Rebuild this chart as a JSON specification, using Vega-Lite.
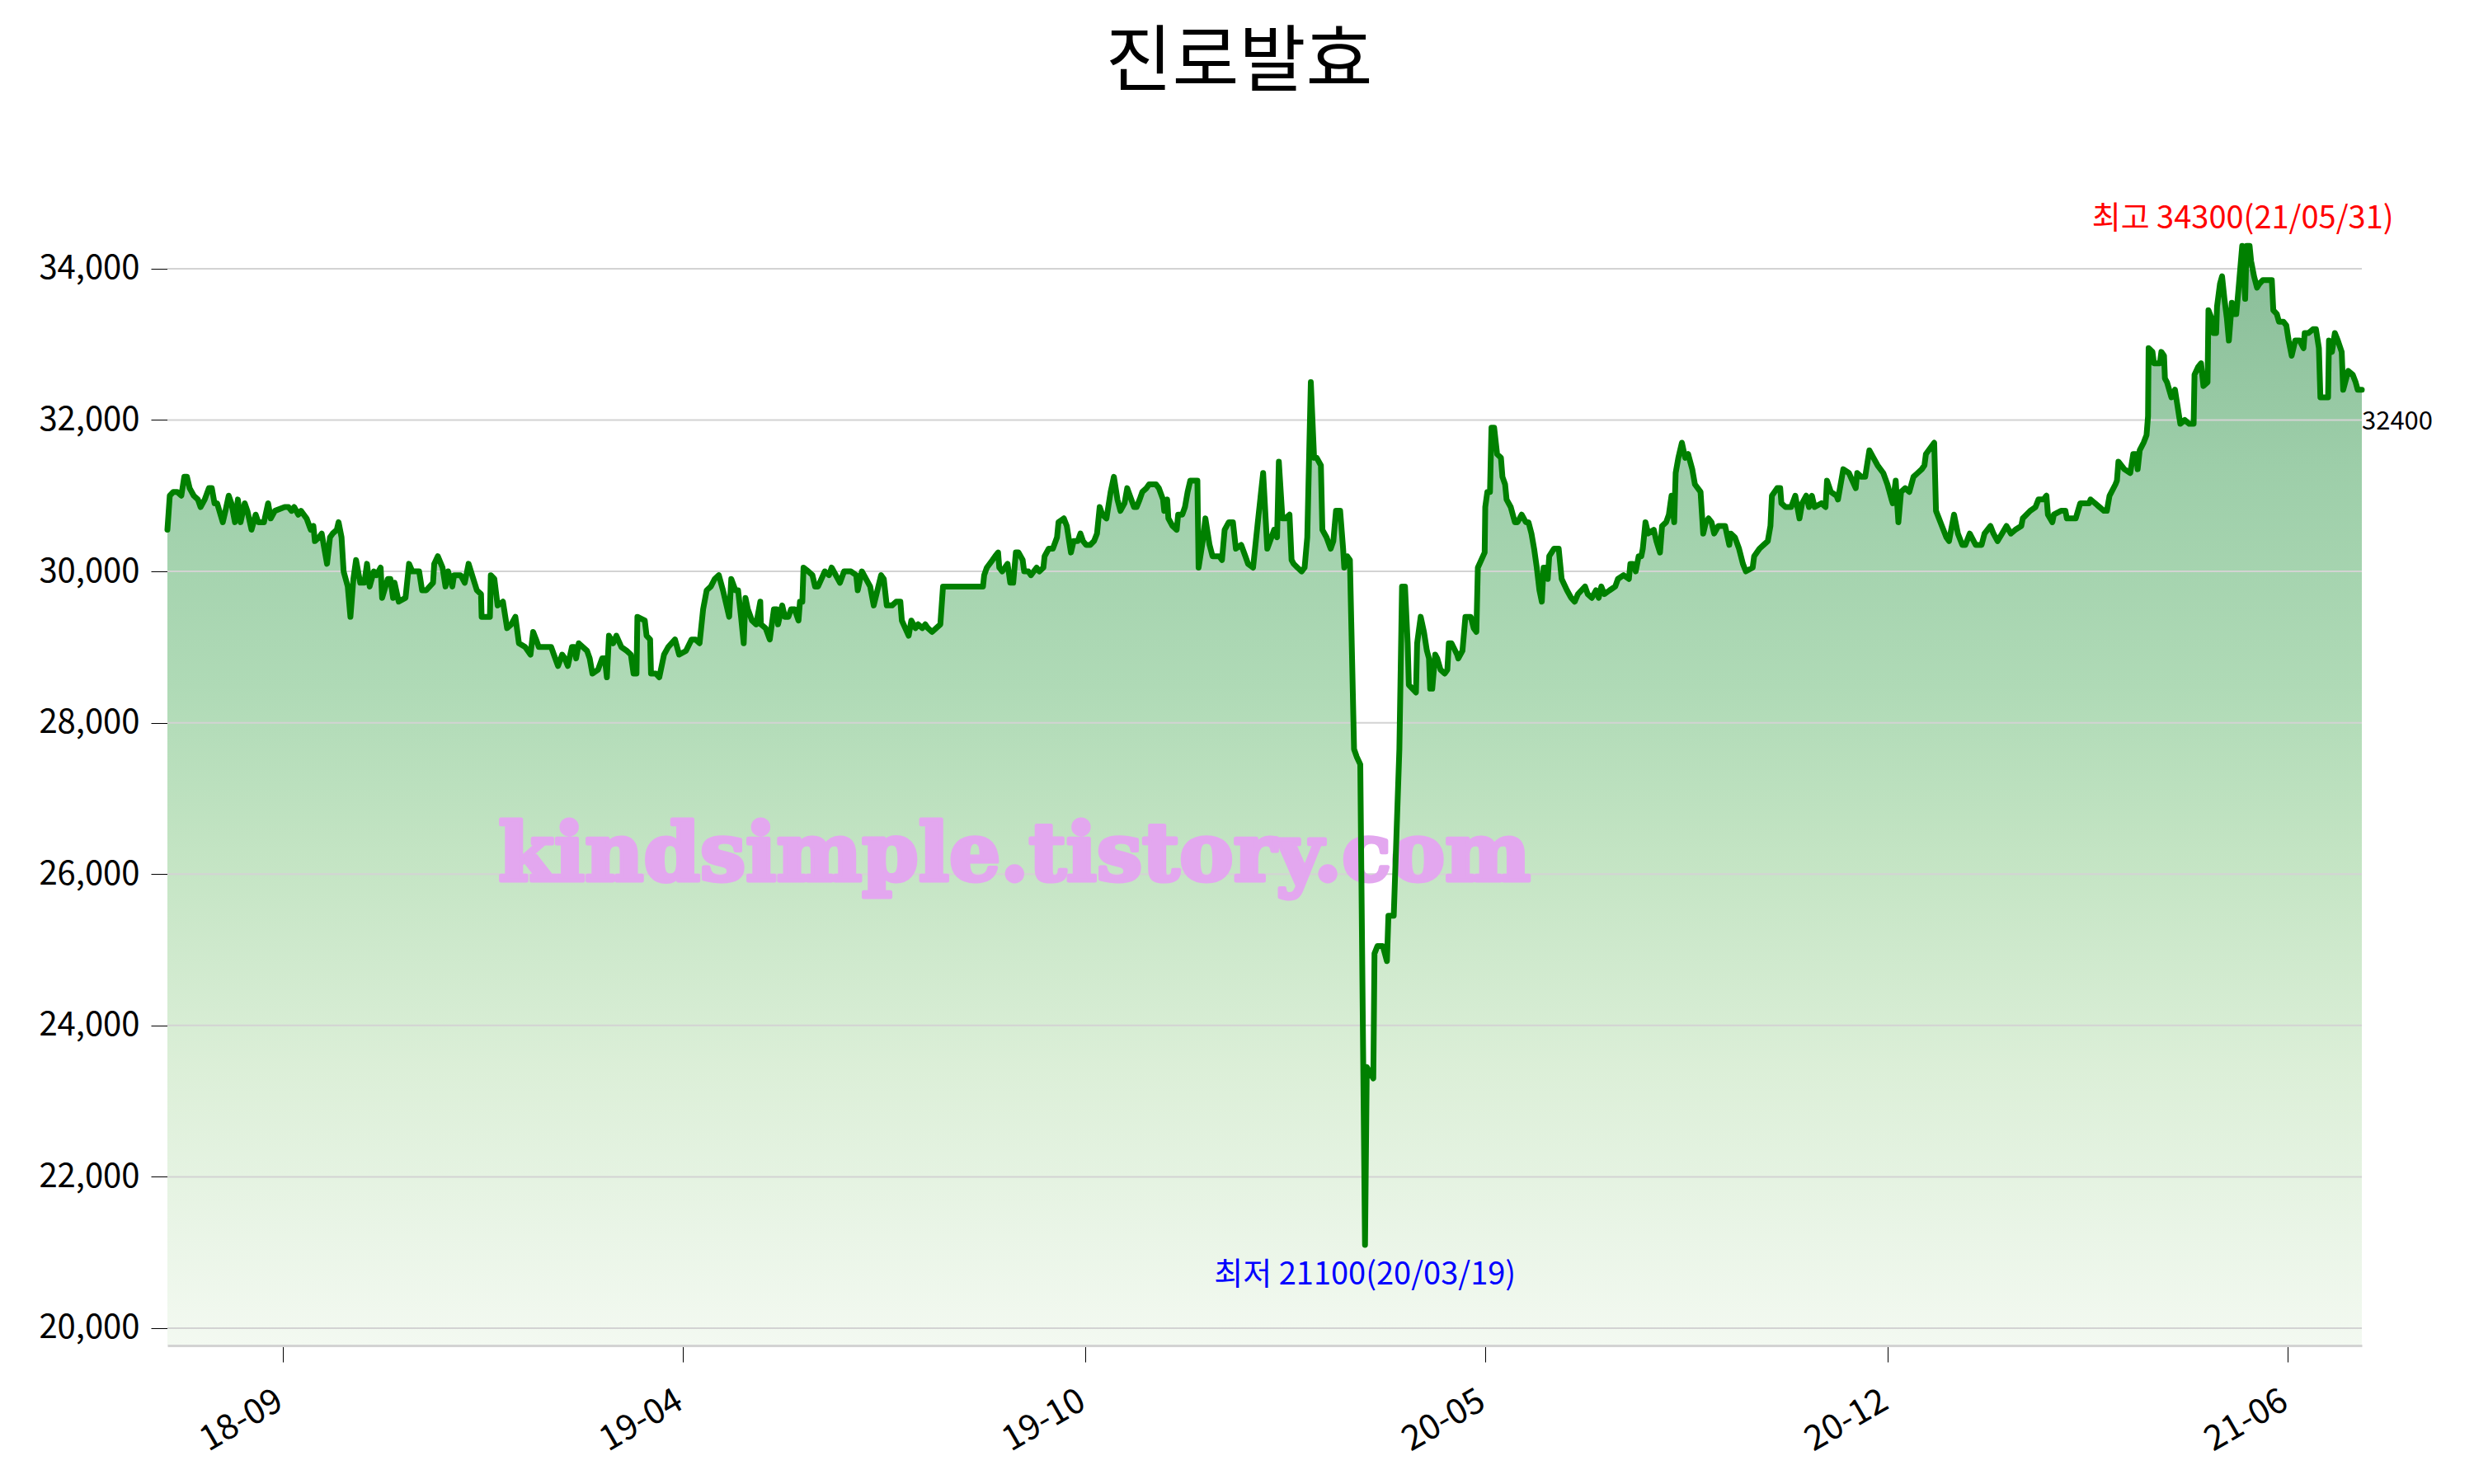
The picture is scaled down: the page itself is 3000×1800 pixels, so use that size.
{
  "$schema": "https://vega.github.io/schema/vega-lite/v6.json",
  "width": 2661,
  "height": 1455,
  "autosize": "none",
  "padding": {"left": 203, "top": 177, "right": 136, "bottom": 168},
  "background": "white",
  "title": {"text": "진로발효", "font": "Noto Sans CJK KR", "fontSize": 88, "fontWeight": "normal", "color": "black", "anchor": "middle", "dx": -31, "offset": 56},
  "config": {"view": {"stroke": null}},
  "datasets": {
    "price": [
      {"t":0,"p":30550},{"t":0.8,"p":31000},{"t":2.0,"p":31050},{"t":3.3,"p":31050},{"t":4.7,"p":31000},{"t":5.7,"p":31250},{"t":6.6,"p":31250},{"t":7.5,"p":31100},{"t":8.9,"p":31000},{"t":10.3,"p":30950},{"t":11.2,"p":30850},{"t":12.6,"p":30950},{"t":14.0,"p":31100},{"t":15.0,"p":31100},{"t":15.9,"p":30900},{"t":16.8,"p":30900},{"t":18.7,"p":30650},{"t":19.6,"p":30800},{"t":20.7,"p":31000},{"t":21.6,"p":30900},{"t":22.8,"p":30650},{"t":23.8,"p":30950},{"t":24.7,"p":30650},{"t":26.1,"p":30900},{"t":27.0,"p":30800},{"t":28.4,"p":30550},{"t":29.8,"p":30750},{"t":30.7,"p":30650},{"t":32.6,"p":30650},{"t":34.0,"p":30900},{"t":34.9,"p":30700},{"t":36.3,"p":30800},{"t":39.6,"p":30850},{"t":40.9,"p":30850},{"t":41.9,"p":30800},{"t":42.8,"p":30850},{"t":44.2,"p":30750},{"t":45.1,"p":30800},{"t":47.0,"p":30700},{"t":48.4,"p":30550},{"t":49.3,"p":30600},{"t":49.8,"p":30400},{"t":51.2,"p":30450},{"t":52.1,"p":30500},{"t":53.9,"p":30100},{"t":54.9,"p":30450},{"t":55.8,"p":30500},{"t":57.2,"p":30550},{"t":57.8,"p":30650},{"t":58.8,"p":30450},{"t":59.5,"p":30000},{"t":60.9,"p":29800},{"t":61.8,"p":29400},{"t":62.8,"p":29900},{"t":63.7,"p":30150},{"t":65.1,"p":29850},{"t":66.5,"p":29850},{"t":67.4,"p":30100},{"t":68.3,"p":29800},{"t":69.7,"p":30000},{"t":70.6,"p":29950},{"t":72.0,"p":30050},{"t":72.5,"p":29650},{"t":74.4,"p":29900},{"t":75.3,"p":29900},{"t":76.2,"p":29650},{"t":76.7,"p":29850},{"t":78.1,"p":29600},{"t":80.4,"p":29650},{"t":81.6,"p":30100},{"t":82.7,"p":30000},{"t":85.0,"p":30000},{"t":86.0,"p":29750},{"t":87.4,"p":29750},{"t":89.7,"p":29850},{"t":90.1,"p":30100},{"t":91.3,"p":30200},{"t":92.9,"p":30050},{"t":93.9,"p":29800},{"t":94.8,"p":30000},{"t":96.2,"p":29800},{"t":96.8,"p":29950},{"t":99.0,"p":29950},{"t":100.4,"p":29850},{"t":101.7,"p":30100},{"t":104.5,"p":29750},{"t":105.9,"p":29700},{"t":106.1,"p":29400},{"t":108.9,"p":29400},{"t":109.2,"p":29950},{"t":110.4,"p":29900},{"t":111.5,"p":29550},{"t":113.3,"p":29600},{"t":114.7,"p":29250},{"t":116.1,"p":29300},{"t":117.5,"p":29400},{"t":118.7,"p":29050},{"t":120.8,"p":29000},{"t":122.6,"p":28900},{"t":123.5,"p":29200},{"t":124.5,"p":29100},{"t":125.4,"p":29000},{"t":129.6,"p":29000},{"t":130.5,"p":28900},{"t":131.9,"p":28750},{"t":133.3,"p":28900},{"t":134.2,"p":28850},{"t":135.2,"p":28750},{"t":136.6,"p":29000},{"t":137.5,"p":29000},{"t":138.0,"p":28850},{"t":138.9,"p":29050},{"t":140.3,"p":29000},{"t":141.7,"p":28950},{"t":142.6,"p":28850},{"t":143.5,"p":28650},{"t":145.4,"p":28700},{"t":146.8,"p":28850},{"t":147.7,"p":28850},{"t":148.4,"p":28600},{"t":149.1,"p":29150},{"t":150.5,"p":29050},{"t":151.6,"p":29150},{"t":153.3,"p":29000},{"t":155.1,"p":28950},{"t":156.5,"p":28900},{"t":157.4,"p":28650},{"t":158.4,"p":28650},{"t":158.7,"p":29400},{"t":161.2,"p":29350},{"t":161.8,"p":29150},{"t":163.0,"p":29100},{"t":163.3,"p":28650},{"t":164.9,"p":28650},{"t":166.1,"p":28600},{"t":167.7,"p":28900},{"t":169.1,"p":29000},{"t":171.4,"p":29100},{"t":172.8,"p":28900},{"t":175.1,"p":28950},{"t":177.0,"p":29100},{"t":178.3,"p":29100},{"t":179.7,"p":29050},{"t":180.9,"p":29500},{"t":182.1,"p":29750},{"t":183.5,"p":29800},{"t":184.8,"p":29900},{"t":186.2,"p":29950},{"t":187.6,"p":29750},{"t":189.7,"p":29400},{"t":190.4,"p":29900},{"t":191.8,"p":29750},{"t":192.7,"p":29750},{"t":193.7,"p":29400},{"t":194.6,"p":29050},{"t":195.2,"p":29650},{"t":196.0,"p":29500},{"t":197.4,"p":29350},{"t":198.8,"p":29300},{"t":200.2,"p":29600},{"t":200.4,"p":29300},{"t":202.0,"p":29250},{"t":203.4,"p":29100},{"t":204.8,"p":29500},{"t":205.7,"p":29500},{"t":206.2,"p":29300},{"t":207.6,"p":29550},{"t":208.5,"p":29400},{"t":209.7,"p":29400},{"t":210.6,"p":29500},{"t":211.8,"p":29500},{"t":213.1,"p":29350},{"t":213.6,"p":29600},{"t":214.4,"p":29600},{"t":214.8,"p":30050},{"t":216.4,"p":30000},{"t":217.8,"p":29950},{"t":218.7,"p":29800},{"t":219.7,"p":29800},{"t":222.0,"p":30000},{"t":223.4,"p":29950},{"t":224.3,"p":30050},{"t":227.1,"p":29850},{"t":228.5,"p":30000},{"t":230.8,"p":30000},{"t":232.6,"p":29950},{"t":233.1,"p":29750},{"t":234.5,"p":30000},{"t":237.3,"p":29800},{"t":238.5,"p":29550},{"t":241.0,"p":29950},{"t":241.9,"p":29900},{"t":242.9,"p":29550},{"t":244.7,"p":29550},{"t":246.1,"p":29600},{"t":247.5,"p":29600},{"t":248.0,"p":29350},{"t":250.3,"p":29150},{"t":251.2,"p":29350},{"t":252.6,"p":29250},{"t":253.5,"p":29300},{"t":254.9,"p":29250},{"t":255.9,"p":29300},{"t":256.8,"p":29250},{"t":258.2,"p":29200},{"t":259.6,"p":29250},{"t":261.0,"p":29300},{"t":261.9,"p":29800},{"t":275.4,"p":29800},{"t":275.8,"p":29950},{"t":276.7,"p":30050},{"t":278.6,"p":30150},{"t":279.5,"p":30200},{"t":280.5,"p":30250},{"t":280.9,"p":30050},{"t":281.9,"p":30000},{"t":282.8,"p":30050},{"t":283.7,"p":30100},{"t":284.6,"p":29850},{"t":285.6,"p":29850},{"t":286.5,"p":30250},{"t":287.4,"p":30250},{"t":288.8,"p":30150},{"t":289.3,"p":30000},{"t":290.7,"p":30000},{"t":291.6,"p":29950},{"t":293.5,"p":30050},{"t":294.4,"p":30000},{"t":295.8,"p":30050},{"t":296.2,"p":30200},{"t":297.6,"p":30300},{"t":299.0,"p":30300},{"t":300.4,"p":30450},{"t":300.9,"p":30650},{"t":302.7,"p":30700},{"t":303.7,"p":30600},{"t":305.1,"p":30250},{"t":306.0,"p":30400},{"t":307.4,"p":30400},{"t":308.3,"p":30500},{"t":309.2,"p":30400},{"t":310.2,"p":30350},{"t":311.6,"p":30350},{"t":312.9,"p":30400},{"t":313.9,"p":30500},{"t":314.8,"p":30850},{"t":315.7,"p":30750},{"t":317.1,"p":30700},{"t":318.5,"p":31050},{"t":319.6,"p":31250},{"t":320.8,"p":30950},{"t":321.8,"p":30800},{"t":323.2,"p":30900},{"t":324.1,"p":31100},{"t":325.0,"p":31000},{"t":326.4,"p":30850},{"t":327.3,"p":30850},{"t":328.3,"p":30950},{"t":329.2,"p":31050},{"t":330.6,"p":31100},{"t":331.5,"p":31150},{"t":333.8,"p":31150},{"t":334.8,"p":31100},{"t":336.2,"p":30950},{"t":336.6,"p":30800},{"t":337.6,"p":30950},{"t":338.0,"p":30700},{"t":339.4,"p":30600},{"t":340.8,"p":30550},{"t":341.3,"p":30750},{"t":342.7,"p":30750},{"t":343.6,"p":30850},{"t":344.5,"p":31050},{"t":345.4,"p":31200},{"t":347.8,"p":31200},{"t":348.2,"p":30050},{"t":349.6,"p":30400},{"t":350.5,"p":30700},{"t":351.9,"p":30350},{"t":352.9,"p":30200},{"t":355.2,"p":30200},{"t":356.1,"p":30150},{"t":357.0,"p":30550},{"t":358.4,"p":30650},{"t":359.8,"p":30650},{"t":360.8,"p":30300},{"t":362.6,"p":30350},{"t":364.0,"p":30200},{"t":364.9,"p":30100},{"t":366.6,"p":30050},{"t":368.2,"p":30650},{"t":370.0,"p":31300},{"t":371.4,"p":30300},{"t":372.8,"p":30450},{"t":373.7,"p":30550},{"t":374.7,"p":30450},{"t":375.3,"p":31450},{"t":376.5,"p":30700},{"t":377.5,"p":30700},{"t":378.9,"p":30750},{"t":379.6,"p":30150},{"t":380.3,"p":30100},{"t":381.6,"p":30050},{"t":383.0,"p":30000},{"t":384.0,"p":30050},{"t":384.9,"p":30450},{"t":386.1,"p":32500},{"t":387.2,"p":31500},{"t":388.1,"p":31500},{"t":389.5,"p":31400},{"t":390.0,"p":30550},{"t":391.4,"p":30450},{"t":392.8,"p":30300},{"t":393.7,"p":30400},{"t":394.6,"p":30800},{"t":396.0,"p":30800},{"t":397.0,"p":30300},{"t":397.4,"p":30050},{"t":398.4,"p":30200},{"t":399.3,"p":30150},{"t":400.7,"p":27650},{"t":401.6,"p":27550},{"t":402.8,"p":27450},{"t":404.4,"p":21100},{"t":405.0,"p":23450},{"t":407.2,"p":23300},{"t":407.6,"p":24950},{"t":408.6,"p":25050},{"t":410.4,"p":25050},{"t":411.8,"p":24850},{"t":412.3,"p":25450},{"t":414.1,"p":25450},{"t":416.0,"p":27650},{"t":416.9,"p":29800},{"t":417.9,"p":29800},{"t":418.8,"p":29050},{"t":419.2,"p":28500},{"t":421.6,"p":28400},{"t":422.0,"p":29050},{"t":423.2,"p":29400},{"t":424.3,"p":29200},{"t":425.3,"p":28950},{"t":426.0,"p":28850},{"t":426.4,"p":28450},{"t":427.1,"p":28450},{"t":428.1,"p":28900},{"t":428.8,"p":28850},{"t":429.9,"p":28700},{"t":431.3,"p":28650},{"t":432.2,"p":28700},{"t":432.7,"p":29050},{"t":433.6,"p":29050},{"t":435.5,"p":28900},{"t":435.9,"p":28850},{"t":437.3,"p":28950},{"t":438.3,"p":29400},{"t":440.1,"p":29400},{"t":441.1,"p":29250},{"t":442.0,"p":29200},{"t":442.5,"p":30050},{"t":444.8,"p":30250},{"t":445.0,"p":30850},{"t":445.7,"p":31050},{"t":446.6,"p":31050},{"t":447.1,"p":31900},{"t":448.0,"p":31900},{"t":449.0,"p":31550},{"t":450.3,"p":31500},{"t":450.8,"p":31250},{"t":451.7,"p":31150},{"t":452.2,"p":30950},{"t":453.6,"p":30850},{"t":455.0,"p":30650},{"t":455.9,"p":30650},{"t":457.3,"p":30750},{"t":458.7,"p":30650},{"t":459.6,"p":30650},{"t":460.6,"p":30500},{"t":461.5,"p":30300},{"t":462.4,"p":30050},{"t":463.3,"p":29750},{"t":464.1,"p":29600},{"t":464.7,"p":30050},{"t":465.7,"p":30050},{"t":466.1,"p":29900},{"t":466.6,"p":30200},{"t":468.2,"p":30300},{"t":469.8,"p":30300},{"t":470.8,"p":29900},{"t":472.6,"p":29750},{"t":474.0,"p":29650},{"t":475.2,"p":29600},{"t":476.3,"p":29700},{"t":478.7,"p":29800},{"t":479.6,"p":29700},{"t":481.0,"p":29650},{"t":482.4,"p":29750},{"t":483.3,"p":29650},{"t":484.2,"p":29800},{"t":485.2,"p":29700},{"t":487.0,"p":29750},{"t":488.9,"p":29800},{"t":489.8,"p":29900},{"t":491.7,"p":29950},{"t":493.5,"p":29900},{"t":494.0,"p":30100},{"t":494.9,"p":30100},{"t":495.8,"p":30000},{"t":496.8,"p":30200},{"t":497.7,"p":30200},{"t":498.2,"p":30300},{"t":499.1,"p":30650},{"t":500.0,"p":30500},{"t":501.9,"p":30550},{"t":502.8,"p":30400},{"t":504.0,"p":30250},{"t":504.7,"p":30600},{"t":506.1,"p":30650},{"t":507.0,"p":30750},{"t":507.9,"p":31000},{"t":508.8,"p":30650},{"t":509.3,"p":31300},{"t":510.2,"p":31500},{"t":511.4,"p":31700},{"t":512.5,"p":31500},{"t":513.5,"p":31550},{"t":514.9,"p":31350},{"t":515.8,"p":31150},{"t":517.7,"p":31050},{"t":518.6,"p":30500},{"t":519.5,"p":30650},{"t":520.4,"p":30700},{"t":521.4,"p":30650},{"t":522.3,"p":30500},{"t":523.7,"p":30600},{"t":526.0,"p":30600},{"t":527.4,"p":30350},{"t":527.9,"p":30500},{"t":529.3,"p":30450},{"t":530.7,"p":30300},{"t":532.0,"p":30100},{"t":533.0,"p":30000},{"t":535.3,"p":30050},{"t":535.8,"p":30200},{"t":537.6,"p":30300},{"t":539.0,"p":30350},{"t":540.4,"p":30400},{"t":541.3,"p":30600},{"t":541.8,"p":31000},{"t":543.6,"p":31100},{"t":544.6,"p":31100},{"t":545.0,"p":30900},{"t":546.4,"p":30850},{"t":548.3,"p":30850},{"t":549.7,"p":31000},{"t":551.1,"p":30700},{"t":552.0,"p":30900},{"t":553.4,"p":31000},{"t":554.3,"p":30850},{"t":555.3,"p":31000},{"t":556.2,"p":30850},{"t":558.5,"p":30900},{"t":559.9,"p":30850},{"t":560.4,"p":31200},{"t":561.7,"p":31050},{"t":563.6,"p":31000},{"t":564.1,"p":30950},{"t":565.9,"p":31350},{"t":567.8,"p":31300},{"t":570.1,"p":31100},{"t":570.6,"p":31300},{"t":572.0,"p":31250},{"t":573.3,"p":31250},{"t":574.7,"p":31600},{"t":576.1,"p":31500},{"t":577.5,"p":31400},{"t":579.4,"p":31300},{"t":580.8,"p":31150},{"t":582.2,"p":30950},{"t":582.6,"p":30900},{"t":583.6,"p":31200},{"t":584.5,"p":30650},{"t":585.4,"p":31050},{"t":586.8,"p":31100},{"t":588.2,"p":31050},{"t":589.6,"p":31250},{"t":591.0,"p":31300},{"t":592.4,"p":31350},{"t":593.3,"p":31400},{"t":593.8,"p":31550},{"t":596.6,"p":31700},{"t":597.2,"p":30800},{"t":599.2,"p":30600},{"t":600.7,"p":30450},{"t":601.6,"p":30400},{"t":603.3,"p":30750},{"t":604.6,"p":30500},{"t":606.1,"p":30350},{"t":607.1,"p":30350},{"t":608.6,"p":30500},{"t":610.6,"p":30350},{"t":612.6,"p":30350},{"t":613.6,"p":30500},{"t":615.6,"p":30600},{"t":616.6,"p":30500},{"t":618.0,"p":30400},{"t":619.5,"p":30500},{"t":621.0,"p":30600},{"t":622.5,"p":30500},{"t":624.0,"p":30550},{"t":626.0,"p":30600},{"t":626.5,"p":30700},{"t":629.0,"p":30800},{"t":630.8,"p":30850},{"t":631.8,"p":30950},{"t":633.5,"p":30950},{"t":634.5,"p":31000},{"t":635.0,"p":30750},{"t":636.5,"p":30650},{"t":637.0,"p":30750},{"t":639.4,"p":30800},{"t":640.9,"p":30800},{"t":641.4,"p":30700},{"t":642.9,"p":30700},{"t":644.4,"p":30700},{"t":645.9,"p":30900},{"t":646.9,"p":30900},{"t":648.9,"p":30900},{"t":649.4,"p":30950},{"t":650.9,"p":30900},{"t":652.4,"p":30850},{"t":653.9,"p":30800},{"t":654.9,"p":30800},{"t":655.8,"p":31000},{"t":657.8,"p":31150},{"t":658.3,"p":31200},{"t":658.8,"p":31450},{"t":660.8,"p":31350},{"t":662.8,"p":31300},{"t":663.8,"p":31550},{"t":664.8,"p":31550},{"t":665.3,"p":31350},{"t":666.0,"p":31600},{"t":667.3,"p":31700},{"t":668.3,"p":31800},{"t":668.8,"p":32050},{"t":669.0,"p":32950},{"t":670.3,"p":32900},{"t":670.8,"p":32750},{"t":672.8,"p":32750},{"t":673.3,"p":32900},{"t":674.2,"p":32850},{"t":674.5,"p":32550},{"t":675.2,"p":32500},{"t":676.7,"p":32300},{"t":677.9,"p":32400},{"t":679.7,"p":31950},{"t":681.2,"p":32000},{"t":682.7,"p":31950},{"t":684.2,"p":31950},{"t":684.5,"p":32600},{"t":685.7,"p":32700},{"t":686.7,"p":32750},{"t":687.5,"p":32450},{"t":688.9,"p":32500},{"t":689.2,"p":33450},{"t":690.2,"p":33350},{"t":690.9,"p":33150},{"t":691.8,"p":33150},{"t":692.1,"p":33500},{"t":693.1,"p":33800},{"t":693.8,"p":33900},{"t":694.6,"p":33600},{"t":695.4,"p":33350},{"t":696.1,"p":33050},{"t":697.1,"p":33550},{"t":697.6,"p":33400},{"t":698.6,"p":33400},{"t":699.4,"p":33750},{"t":700.6,"p":34300},{"t":701.6,"p":33600},{"t":702.1,"p":34300},{"t":703.1,"p":34300},{"t":703.6,"p":34100},{"t":704.6,"p":33900},{"t":705.6,"p":33750},{"t":706.4,"p":33800},{"t":707.6,"p":33850},{"t":709.1,"p":33850},{"t":710.6,"p":33850},{"t":711.1,"p":33450},{"t":712.3,"p":33400},{"t":713.0,"p":33300},{"t":714.5,"p":33300},{"t":715.5,"p":33250},{"t":716.3,"p":33050},{"t":717.3,"p":32850},{"t":718.5,"p":33050},{"t":720.0,"p":33050},{"t":721.3,"p":32950},{"t":721.7,"p":33150},{"t":723.0,"p":33150},{"t":724.5,"p":33200},{"t":725.5,"p":33200},{"t":726.5,"p":32950},{"t":727.0,"p":32300},{"t":729.6,"p":32300},{"t":729.9,"p":33050},{"t":730.9,"p":32900},{"t":731.9,"p":33150},{"t":732.9,"p":33050},{"t":734.2,"p":32900},{"t":734.7,"p":32400},{"t":736.4,"p":32650},{"t":737.9,"p":32600},{"t":738.9,"p":32500},{"t":739.6,"p":32400},{"t":741,"p":32400}
    ],
    "grid": [{"p":20000},{"p":22000},{"p":24000},{"p":26000},{"p":28000},{"p":30000},{"p":32000},{"p":34000}],
    "notes": [
      {"kind":"max","t":700.8,"p":34300,"label":"최고 34300(21/05/31)"},
      {"kind":"min","t":404.4,"p":21100,"label":"최저 21100(20/03/19)"},
      {"kind":"last","t":741,"p":32400,"label":"32400"},
      {"kind":"mark","t":286,"p":26230,"label":"kindsimple.tistory.com"}
    ]
  },
  "layer": [
    {
      "data": {"name": "price"},
      "mark": {"type": "area", "interpolate": "linear", "clip": true, "color": {"gradient": "linear", "x1": 0, "y1": 0, "x2": 0, "y2": 1, "stops": [{"offset": 0, "color": "#89bd98"}, {"offset": 0.2, "color": "#9dcea9"}, {"offset": 0.4, "color": "#afdab6"}, {"offset": 0.55, "color": "#c3e4c3"}, {"offset": 0.75, "color": "#dcefd8"}, {"offset": 1, "color": "#f3f9f1"}]}},
      "encoding": {
        "x": {"field": "t", "type": "quantitative", "scale": {"domain": [0, 741], "nice": false, "zero": false},
          "axis": {"title": null, "grid": false, "values": [39, 174, 310, 445, 581, 716],
            "labelExpr": "datum.value == 39 ? '18-09' : datum.value == 174 ? '19-04' : datum.value == 310 ? '19-10' : datum.value == 445 ? '20-05' : datum.value == 581 ? '20-12' : '21-06'",
            "labelAngle": -30, "labelAlign": "right", "labelBaseline": "top", "labelFont": "Noto Sans CJK KR", "labelFontSize": 42, "labelColor": "black", "labelPadding": 26, "labelOffset": -14,
            "tickSize": 20, "tickColor": "black", "tickWidth": 1, "domainColor": "#d3d3d3", "domainWidth": 3, "zindex": 1, "labelOverlap": false}},
        "y": {"field": "p", "type": "quantitative", "scale": {"domain": [19771, 35622], "nice": false, "zero": false},
          "axis": {"title": null, "grid": false, "domain": false, "values": [20000, 22000, 24000, 26000, 28000, 30000, 32000, 34000], "labelExpr": "format(datum.value, ',')",
            "labelFont": "Noto Sans CJK KR", "labelFontSize": 40, "labelColor": "black", "labelPadding": 14, "tickSize": 20, "tickColor": "black", "tickWidth": 1}},
        "y2": {"datum": 19771}
      }
    },
    {
      "data": {"name": "grid"},
      "mark": {"type": "rule", "stroke": "#d3d3d3", "strokeWidth": 2},
      "encoding": {"y": {"field": "p", "type": "quantitative"}}
    },
    {
      "data": {"name": "notes"},
      "transform": [{"filter": "datum.kind == 'mark'"}],
      "mark": {"type": "text", "font": "DejaVu Serif", "fontWeight": "bold", "fontSize": 98, "color": "#e3a7ef", "stroke": "#e3a7ef", "strokeWidth": 5, "strokeJoin": "round", "align": "center", "baseline": "middle"},
      "encoding": {
        "x": {"field": "t", "type": "quantitative"},
        "y": {"field": "p", "type": "quantitative"},
        "text": {"field": "label"}
      }
    },
    {
      "data": {"name": "price"},
      "mark": {"type": "line", "color": "#008000", "strokeWidth": 7, "strokeJoin": "round", "strokeCap": "round"},
      "encoding": {
        "x": {"field": "t", "type": "quantitative"},
        "y": {"field": "p", "type": "quantitative"}
      }
    },
    {
      "data": {"name": "notes"},
      "transform": [{"filter": "datum.kind == 'max'"}],
      "mark": {"type": "text", "font": "Noto Sans CJK KR", "fontSize": 38, "color": "red", "align": "center", "baseline": "middle", "dy": -32},
      "encoding": {
        "x": {"field": "t", "type": "quantitative"},
        "y": {"field": "p", "type": "quantitative"},
        "text": {"field": "label"}
      }
    },
    {
      "data": {"name": "notes"},
      "transform": [{"filter": "datum.kind == 'min'"}],
      "mark": {"type": "text", "font": "Noto Sans CJK KR", "fontSize": 38, "color": "blue", "align": "center", "baseline": "middle", "dy": 37},
      "encoding": {
        "x": {"field": "t", "type": "quantitative"},
        "y": {"field": "p", "type": "quantitative"},
        "text": {"field": "label"}
      }
    },
    {
      "data": {"name": "notes"},
      "transform": [{"filter": "datum.kind == 'last'"}],
      "mark": {"type": "text", "font": "Noto Sans CJK KR", "fontSize": 31, "color": "black", "align": "left", "baseline": "middle", "dy": 39},
      "encoding": {
        "x": {"field": "t", "type": "quantitative"},
        "y": {"field": "p", "type": "quantitative"},
        "text": {"field": "label"}
      }
    }
  ]
}
